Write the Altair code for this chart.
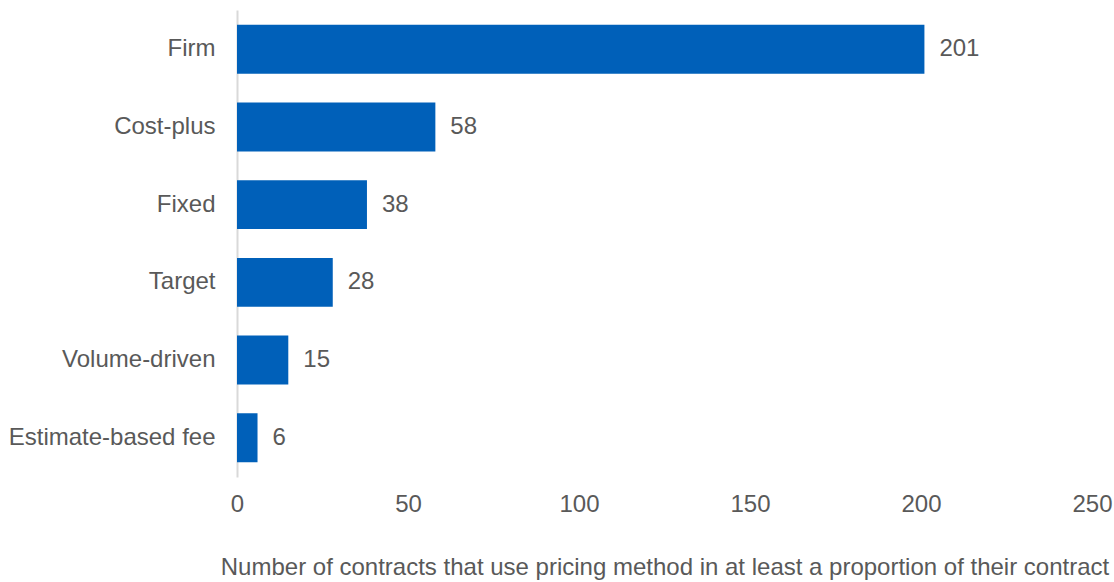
import altair as alt
import pandas as pd

categories = ["Firm", "Cost-plus", "Fixed", "Target", "Volume-driven", "Estimate-based fee"]
values = [201, 58, 38, 28, 15, 6]
x_ticks = [0, 50, 100, 150, 200, 250]

df = pd.DataFrame({"method": categories, "count": values})

FONT = "Liberation Sans"
GRAY = "#595959"
FS = 24

base = alt.Chart(df).encode(
    y=alt.Y("method:N", sort=categories, title=None,
            scale=alt.Scale(paddingInner=0.37, paddingOuter=0.19),
            axis=alt.Axis(labelFont=FONT, labelFontSize=FS, labelColor=GRAY,
                          labelPadding=22, labelLimit=0, ticks=False, domainColor="#d9d9d9",
                          domainWidth=2, grid=False)),
    x=alt.X("count:Q", title="Number of contracts that use pricing method in at least a proportion of their contract",
            scale=alt.Scale(domain=[0, 250], nice=False),
            axis=alt.Axis(values=x_ticks, labelFont=FONT, labelFontSize=FS, labelColor=GRAY,
                          labelPadding=15, labelFlush=False, ticks=False, domain=False, grid=False,
                          titleFont=FONT, titleFontSize=FS, titleColor=GRAY,
                          titleFontWeight="normal", titlePadding=39)),
)

bars = base.mark_bar(color="#0060B9")
labels = base.mark_text(align="left", dx=15, font=FONT, fontSize=FS, color=GRAY).encode(
    text=alt.Text("count:Q"))

chart = (bars + labels).properties(
    width=855, height=467,
    autosize=alt.AutoSizeParams(type="none"),
    padding={"left": 237, "top": 10, "right": 22, "bottom": 105},
).configure_view(stroke=None)

chart.save("out.html", embed_options={"renderer": "svg", "actions": False})
